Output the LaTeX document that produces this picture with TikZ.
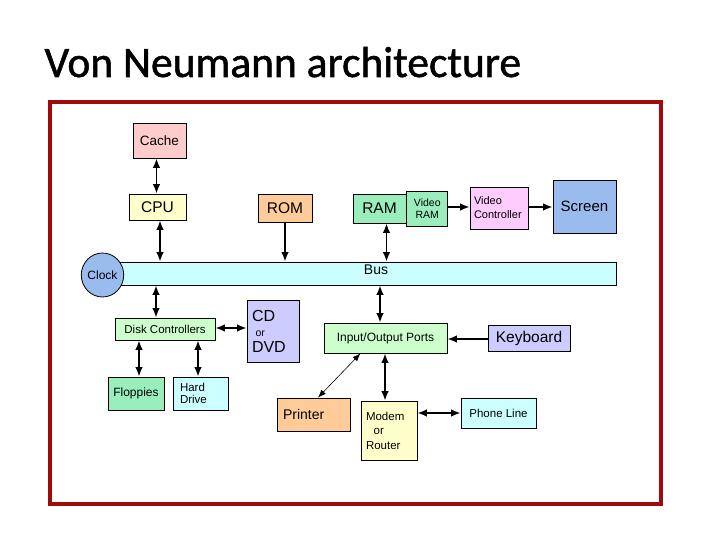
\documentclass[tikz,border=0pt]{standalone}
\usepackage{fontspec}
\setmainfont{Liberation Sans}
\newfontfamily\titlefont[FakeBold=1.2]{Carlito}
\usetikzlibrary{arrows.meta,positioning,shapes.geometric}
\definecolor{framered}{HTML}{A00A0A}
\definecolor{pinkc}{HTML}{FFCCCC}
\definecolor{yellowc}{HTML}{FFFFCC}
\definecolor{orangec}{HTML}{FFCC99}
\definecolor{greenc}{HTML}{99EEBB}
\definecolor{palegreen}{HTML}{CCFFCC}
\definecolor{magentac}{HTML}{FFCCFF}
\definecolor{bluec}{HTML}{99BBEE}
\definecolor{cyanc}{HTML}{CCFFFF}
\definecolor{lavender}{HTML}{CCCCFF}
\newcommand{\fs}[1]{\fontsize{#1}{#1}\selectfont}
\newcommand{\fsb}[2]{\fontsize{#1}{#2}\selectfont}

\begin{document}
\begin{tikzpicture}[x=1pt,y=-1pt,
    box/.style={draw,line width=0.8pt,inner sep=2pt,align=center,font=\fs{11.5}},
    leftbox/.style={box,align=left,inner xsep=5pt},
    both/.style={{Latex[length=9.5pt,width=7.5pt]}-{Latex[length=9.5pt,width=7.5pt]},line width=1.6pt},
    arrow/.style={-{Latex[length=9.5pt,width=7.5pt]},line width=1.6pt},
    thinboth/.style={{Latex[length=8pt,width=6pt]}-{Latex[length=8pt,width=6pt]},line width=0.6pt}]
  \useasboundingbox (0,0) rectangle (720,540);
  \node[anchor=base west,font=\titlefont\fs{43.5}] (title) at (41,77) {Von Neumann architecture};
  \draw[framered,line width=4.5pt] (50,102) rectangle (661,504);
  % upper row
  \node[box,fill=pinkc,minimum width=53pt,minimum height=35pt,font=\fs{13.5}] (cache) at (159.5,140.5) {Cache};
  \node[box,fill=yellowc,minimum width=57pt,minimum height=26pt,font=\fs{15.5}] (cpu) at (157.5,207) {CPU};
  \node[box,fill=orangec,minimum width=54pt,minimum height=28pt,font=\fs{15.5}] (rom) at (285,208) {ROM};
  \node[box,fill=greenc,minimum width=53pt,minimum height=29pt,font=\fs{15.5}] (ram) at (379.5,208.5) {RAM};
  \node[box,fill=greenc,minimum width=41pt,minimum height=35pt,font=\fsb{10.5}{12},right=0pt of ram] (vram) {Video\\RAM};
  \node[leftbox,fill=magentac,text width=50pt,minimum height=42pt,inner xsep=4pt,font=\fsb{11}{14}] (vctrl) at (499,208) {Video\\Controller};
  \node[box,fill=bluec,minimum width=63pt,minimum height=53pt,font=\fs{15}] (screen) at (584.5,206.5) {Screen};
  % bus and clock
  \node[box,fill=cyanc,minimum width=521pt,minimum height=23pt] (bus) at (355.5,273.5) {};
  \node[font=\fs{14},inner sep=0pt] (buslabel) at (376,270) {Bus};
  \node[draw,line width=0.8pt,ellipse,fill=bluec,minimum width=39pt,minimum height=44pt,inner sep=0pt,font=\fs{12}] (clock) at (102.5,275) {Clock};
  % storage
  \node[box,fill=palegreen,minimum width=100pt,minimum height=22pt] (disk) at (165,329) {Disk Controllers};
  \node[leftbox,fill=lavender,text width=42pt,minimum height=62pt,font=\fsb{16}{15.5}] (cd) at (273,331) {CD\\{\fs{10.5}\,\,or}\\DVD};
  \node[box,fill=greenc,minimum width=56pt,minimum height=33pt,font=\fs{12}] (floppy) at (136,393.5) {Floppies};
  \node[leftbox,fill=cyanc,text width=41pt,minimum height=33pt,inner xsep=7pt,font=\fsb{11.5}{12.5}] (hdd) at (200.5,393.5) {Hard\\Drive};
  % input / output
  \node[box,fill=palegreen,minimum width=123pt,minimum height=30pt,font=\fs{12}] (ports) at (385.5,338) {Input/Output Ports};
  \node[box,fill=lavender,minimum width=82pt,minimum height=26pt,font=\fs{15.5}] (keyb) at (529,338) {Keyboard};
  \node[leftbox,fill=orangec,text width=61pt,minimum height=33pt,inner xsep=6pt,font=\fs{14}] (printer) at (313.5,414.5) {Printer};
  \node[leftbox,fill=yellowc,text width=46pt,minimum height=59pt,font=\fsb{11.5}{14.5}] (modem) at (389,430.5) {Modem\\\ \ or\\Router};
  \node[box,fill=cyanc,minimum width=75pt,minimum height=30pt] (phone) at (498.5,413) {Phone Line};
  % connectors
  \draw[both] ([xshift=-3pt]cache.south) -- ([xshift=-3pt]cache.south |- cpu.north);
  \draw[both] ([xshift=2.5pt]cpu.south) -- ([xshift=2.5pt]cpu.south |- bus.north);
  \draw[arrow] (rom.south) -- (rom.south |- bus.north);
  \draw[both] ([xshift=7pt]ram.south) -- ([xshift=7pt]ram.south |- bus.north);
  \draw[arrow] ([yshift=1.5pt]vram.east) -- ([yshift=1.5pt]vram.east -| vctrl.west);
  \draw[arrow] ([yshift=1pt]vctrl.east) -- ([yshift=1pt]vctrl.east -| screen.west);
  \draw[both] ([xshift=-9pt]disk.north) -- ([xshift=-9pt]disk.north |- bus.south);
  \draw[both] ([yshift=1pt]disk.east) -- ([yshift=1pt]disk.east -| cd.west);
  \draw[both] ([xshift=3pt]floppy.north) -- ([xshift=3pt]floppy.north |- disk.south);
  \draw[both] ([xshift=-2.5pt]hdd.north) -- ([xshift=-2.5pt]hdd.north |- disk.south);
  \draw[both] ([xshift=-5.5pt]ports.north) -- ([xshift=-5.5pt]ports.north |- bus.south);
  \draw[arrow] ([yshift=-1pt]keyb.west) -- ([yshift=-1pt]keyb.west -| ports.east);
  \draw[thinboth] ([xshift=4.5pt]printer.north) -- ([xshift=-25pt]ports.south);
  \draw[both] ([xshift=-4pt]modem.north) -- ([xshift=-4pt]modem.north |- ports.south);
  \draw[both] (phone.west) -- (phone.west -| modem.east);
\end{tikzpicture}
\end{document}
